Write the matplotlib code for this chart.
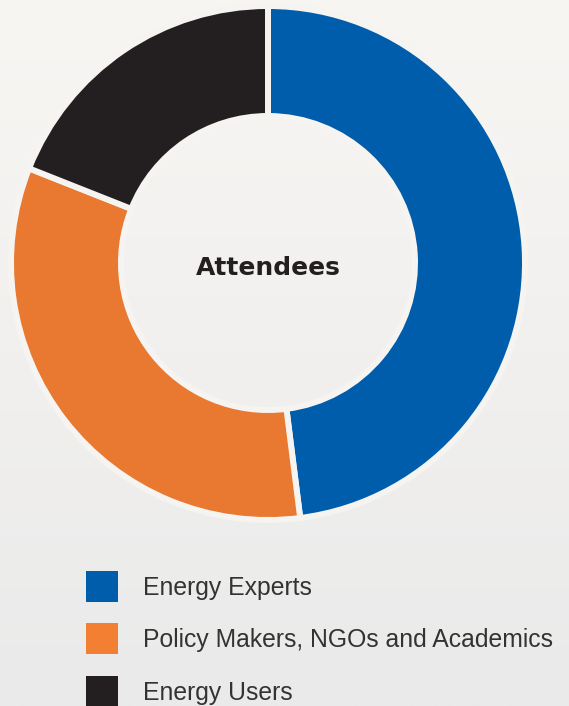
import numpy as np
import matplotlib
matplotlib.use("Agg")
import matplotlib.pyplot as plt
from matplotlib.patches import Patch

# share of attendees
labels = ["Energy Experts", "Policy Makers, NGOs and Academics", "Energy Users"]
shares = [48, 33, 19]
ring_colors = ["#005DAB", "#E97830", "#231F20"]
legend_colors = ["#005DAB", "#F27F32", "#231F20"]

W, H = 569, 706
fig = plt.figure(figsize=(W / 100, H / 100), dpi=100)

# soft photo-like background: light vertical gradient
bg = fig.add_axes([0, 0, 1, 1], zorder=-10)
grad = np.linspace(0, 1, 256).reshape(-1, 1)
top = np.array([248, 246, 243]) / 255
bot = np.array([234, 234, 234]) / 255
img = top + (bot - top) * grad[:, :, None]
bg.imshow(img, aspect="auto", extent=[0, 1, 0, 1])
bg.axis("off")

# donut axes: centre at (268, 263) px, 1 data unit = 257 px
cx, cy, r = 268, 263, 257
ax = fig.add_axes([(cx - r) / W, (H - cy - r) / H, 2 * r / W, 2 * r / H])
ax.pie(shares, colors=ring_colors, startangle=90, counterclock=False,
       radius=1.0,
       wedgeprops=dict(width=0.428, edgecolor="#F6F4F1", linewidth=4.3))
ax.set_xlim(-1, 1)
ax.set_ylim(-1, 1)
ax.set_aspect("equal")
ax.axis("off")
ax.text(0, -0.02, "Attendees", ha="center", va="center",
        fontsize=18, fontweight="bold", color="#231F20",
        family="DejaVu Sans")

handles = [Patch(facecolor=c, edgecolor="none") for c in legend_colors]
fig.legend(handles, labels, loc="upper left",
           bbox_to_anchor=(86 / W, 1 - 571 / H),
           frameon=False, borderpad=0, borderaxespad=0,
           handlelength=1.31, handleheight=1.55,
           handletextpad=1.0, labelspacing=0.87,
           prop={"family": "Liberation Sans", "size": 17.8},
           labelcolor="#333333")

fig.savefig("out.png", dpi=100)
